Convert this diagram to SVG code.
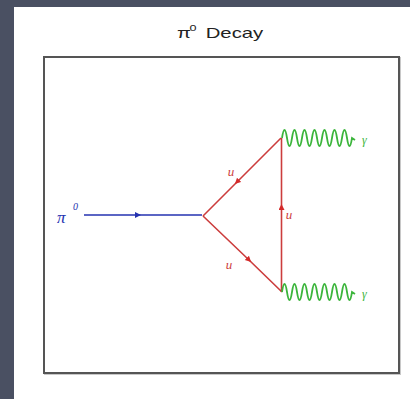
<svg xmlns="http://www.w3.org/2000/svg" width="410" height="399" viewBox="0 0 410 399">
  <defs>
    <style>
      .title { font-family: "Liberation Sans", Arial, sans-serif; fill: #222; }
      .lbl { font-family: "Liberation Serif", "Times New Roman", serif; font-style: italic; }
      .quark { stroke: #cc3d3d; stroke-width: 1.6; fill: none; }
      .pion { stroke: #2432b0; stroke-width: 1.6; fill: none; }
      .photon { stroke: #3cb53c; stroke-width: 1.8; fill: none; }
    </style>
    <marker id="arrRed" markerUnits="userSpaceOnUse" markerWidth="10" markerHeight="10" refX="3" refY="3" orient="auto">
      <path d="M0,0 L6,3 L0,6 Z" fill="#d42a2a"/>
    </marker>
    <marker id="arrBlue" markerUnits="userSpaceOnUse" markerWidth="10" markerHeight="10" refX="3" refY="3" orient="auto">
      <path d="M0,0 L6,3 L0,6 Z" fill="#2432b0"/>
    </marker>
  </defs>

  <rect x="0" y="0" width="410" height="399" fill="#4a5062"/>
  <rect x="14" y="7" width="396" height="392" fill="#ffffff"/>

  <g id="title">
    <text class="title" transform="translate(177,38) scale(1.4,1)" font-size="14.5">
      <tspan x="0">π</tspan><tspan x="9" dy="-7" font-size="9">0</tspan><tspan x="20.5" dy="7">Decay</tspan>
    </text>
  </g>

  <g id="frame">
    <rect x="45" y="58" width="355" height="316" fill="none" stroke="#c8c8c8" stroke-width="2"/>
    <rect x="44" y="57" width="355" height="316" fill="#fff" stroke="#555" stroke-width="2"/>
  </g>

  <g id="connectors">
    <path class="pion" d="M84,215 L138,215 L202,215" marker-mid="url(#arrBlue)"/>
    <path class="quark" d="M203,216 L249,260 L282,292" marker-mid="url(#arrRed)"/>
    <path class="quark" d="M281.5,292 L281.5,207 L281.5,138" marker-mid="url(#arrRed)"/>
    <path class="quark" d="M281,138 L237,182 L203,216" marker-mid="url(#arrRed)"/>
    <path class="photon" d="M282,138 q2.5,-16 5,0 q2.5,16 5,0 q2.5,-16 5,0 q2.5,16 5,0 q2.5,-16 5,0 q2.5,16 5,0 q2.5,-16 5,0 q2.5,16 5,0 q2.5,-16 5,0 q2.5,16 5,0 q2.5,-16 5,0 q2.5,16 5,0 q2.5,-16 5,0 q2.5,16 5,0 l3,2"/>
    <path class="photon" d="M282,292 q2.5,-16 5,0 q2.5,16 5,0 q2.5,-16 5,0 q2.5,16 5,0 q2.5,-16 5,0 q2.5,16 5,0 q2.5,-16 5,0 q2.5,16 5,0 q2.5,-16 5,0 q2.5,16 5,0 q2.5,-16 5,0 q2.5,16 5,0 q2.5,-16 5,0 q2.5,16 5,0 l3,2"/>
  </g>

  <g id="pion">
    <text class="lbl" x="57" y="223" font-size="17" fill="#2432b0" font-style="normal">π</text>
    <text class="lbl" x="73" y="210" font-size="10" fill="#2432b0">0</text>
  </g>
  <g id="quark-upper">
    <text class="lbl" x="231" y="176" font-size="13" fill="#cc3d3d" text-anchor="middle">u</text>
  </g>
  <g id="quark-right">
    <text class="lbl" x="289" y="219" font-size="13" fill="#cc3d3d" text-anchor="middle">u</text>
  </g>
  <g id="quark-lower">
    <text class="lbl" x="229" y="269" font-size="13" fill="#cc3d3d" text-anchor="middle">u</text>
  </g>
  <g id="photon-upper">
    <text class="lbl" x="362" y="144" font-size="12" fill="#3cb53c" font-style="normal">γ</text>
  </g>
  <g id="photon-lower">
    <text class="lbl" x="362" y="298" font-size="12" fill="#3cb53c" font-style="normal">γ</text>
  </g>
</svg>
